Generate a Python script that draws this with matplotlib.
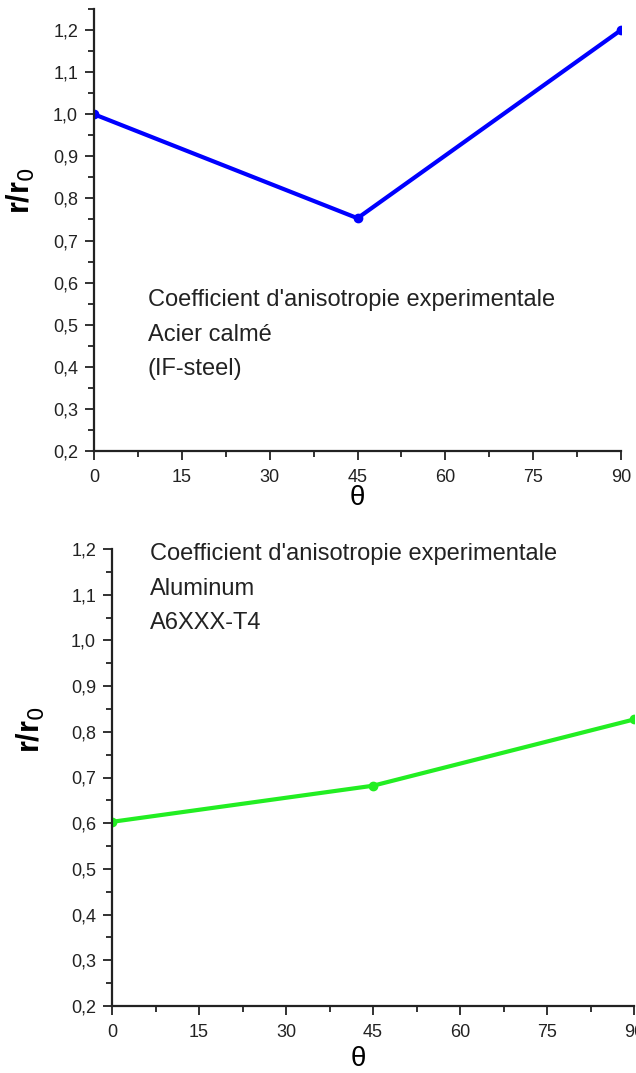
"""
Coefficient d'anisotropie experimentale: acier calme (IF-steel) and aluminium A6XXX-T4
"""
import matplotlib
matplotlib.use('Agg')
import matplotlib.pyplot as plt
from matplotlib.ticker import MultipleLocator, FixedLocator, FixedFormatter

# Data
theta = [0, 45, 90]
r_steel = [1.0, 0.753, 1.2]
r_alu = [0.603, 0.682, 0.827]

x_ticks = [0, 15, 30, 45, 60, 75, 90]
x_labels = ['0', '15', '30', '45', '60', '75', '90']
y_ticks = [0.2, 0.3, 0.4, 0.5, 0.6, 0.7, 0.8, 0.9, 1.0, 1.1, 1.2]
y_labels = ['0,2', '0,3', '0,4', '0,5', '0,6', '0,7', '0,8', '0,9', '1,0', '1,1', '1,2']

text_steel = "Coefficient d'anisotropie experimentale\nAcier calmé\n(IF-steel)"
text_alu = "Coefficient d'anisotropie experimentale\nAluminum\nA6XXX-T4"

plt.rcParams['font.family'] = ['Liberation Sans', 'DejaVu Sans']

W, H = 636, 1073
fig = plt.figure(figsize=(W / 100, H / 100), dpi=100)

def px_axes(left, right, top, bottom):
    return fig.add_axes([left / W, 1 - bottom / H, (right - left) / W, (bottom - top) / H])

def style_axis(ax, ylim_top):
    ax.set_xlim(0, 90)
    ax.set_ylim(0.2, ylim_top)
    for s in ['top', 'right']:
        ax.spines[s].set_visible(False)
    for s in ['left', 'bottom']:
        ax.spines[s].set_linewidth(1.6)
        ax.spines[s].set_color('#222222')
    ax.xaxis.set_major_locator(FixedLocator(x_ticks))
    ax.xaxis.set_major_formatter(FixedFormatter(x_labels))
    ax.xaxis.set_minor_locator(MultipleLocator(7.5))
    ax.yaxis.set_major_locator(FixedLocator(y_ticks))
    ax.yaxis.set_major_formatter(FixedFormatter(y_labels))
    ax.yaxis.set_minor_locator(MultipleLocator(0.05))
    ax.tick_params(axis='both', which='major', length=6.5, width=1.3, labelsize=13,
                   color='#222222', labelcolor='#222222')
    ax.tick_params(axis='both', which='minor', length=4.5, width=1.3, color='#222222')
    ax.tick_params(axis='y', which='major', pad=5)
    ax.tick_params(axis='x', which='major', pad=6.5)

# Top panel: IF-steel
ax1 = px_axes(94, 621, 9, 451)
ax1.plot(theta, r_steel, color='#0000ff', lw=3, marker='o', ms=6)
style_axis(ax1, 1.25)
ax1.set_xlabel('θ', fontsize=20)
ax1.set_ylabel('r/r$_0$', fontsize=22, fontweight='bold')
ax1.xaxis.set_label_coords(0.499, -0.077)
ax1.yaxis.set_label_coords(-0.108, 0.588)
ax1.text(9.2, 0.584, text_steel, fontsize=17, va='top', ha='left',
         linespacing=1.72, color='#222222')

# Bottom panel: aluminium
ax2 = px_axes(112, 634, 549, 1006)
ax2.plot(theta, r_alu, color='#22ee22', lw=3, marker='o', ms=6)
style_axis(ax2, 1.2)
ax2.set_xlabel('θ', fontsize=20)
ax2.set_ylabel('r/r$_0$', fontsize=22, fontweight='bold')
ax2.xaxis.set_label_coords(0.471, -0.088)
ax2.yaxis.set_label_coords(-0.125, 0.605)
ax2.text(6.5, 1.214, text_alu, fontsize=17, va='top', ha='left',
         linespacing=1.76, color='#222222')

plt.savefig('out.png', dpi=100)
plt.close(fig)
